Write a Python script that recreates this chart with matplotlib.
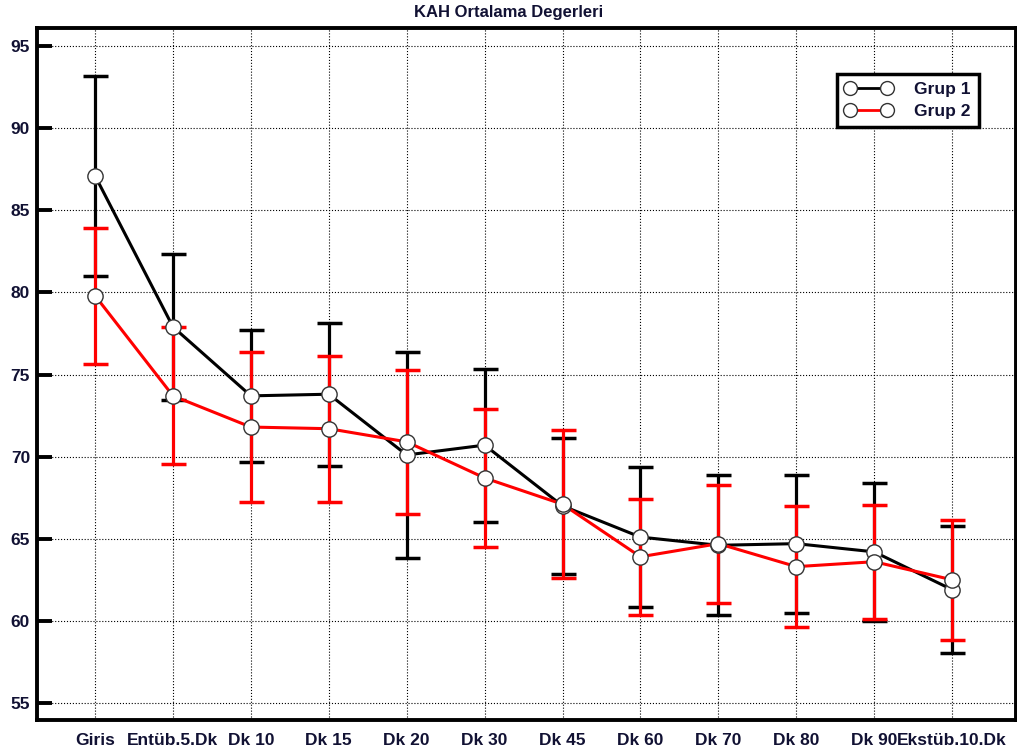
import matplotlib
matplotlib.use('Agg')
import matplotlib.pyplot as plt
import numpy as np

plt.rcParams['font.family'] = ['Liberation Sans', 'DejaVu Sans']
plt.rcParams['font.weight'] = 'bold'

labels = ['Giris', 'Entüb.5.Dk', 'Dk 10', 'Dk 15', 'Dk 20', 'Dk 30', 'Dk 45',
          'Dk 60', 'Dk 70', 'Dk 80', 'Dk 90', 'Ekstüb.10.Dk']

grup1_mean = [87.1, 77.9, 73.7, 73.8, 70.1, 70.7, 67.0, 65.1, 64.6, 64.7, 64.2, 61.9]
grup1_sd = [6.1, 4.45, 4.0, 4.35, 6.3, 4.66, 4.15, 4.27, 4.26, 4.2, 4.2, 3.86]

grup2_mean = [79.8, 73.7, 71.8, 71.7, 70.9, 68.7, 67.1, 63.9, 64.7, 63.3, 63.6, 62.5]
grup2_sd = [4.14, 4.17, 4.55, 4.45, 4.4, 4.2, 4.5, 3.53, 3.6, 3.7, 3.47, 3.65]

x = np.arange(len(labels))

fig = plt.figure(figsize=(10.17, 7.53), dpi=100)
ax = fig.add_axes([0.0364, 0.0438, 0.9626, 0.919])

# error bars
ax.errorbar(x, grup1_mean, yerr=grup1_sd, fmt='none', ecolor='black',
            elinewidth=2.3, capsize=9, capthick=2.5, zorder=3)
ax.errorbar(x, grup2_mean, yerr=grup2_sd, fmt='none', ecolor='red',
            elinewidth=2.3, capsize=9, capthick=2.5, zorder=4)

# lines
ax.plot(x, grup1_mean, color='black', lw=2.2, zorder=5)
ax.plot(x, grup2_mean, color='red', lw=2.2, zorder=6)

# markers
ax.plot(x, grup1_mean, 'o', ms=11, mfc='white', mec='#333333', mew=1.0, zorder=7)
ax.plot(x, grup2_mean, 'o', ms=11, mfc='white', mec='#333333', mew=1.0, zorder=8)

# legend handles
h1, = ax.plot([], [], color='black', lw=2, marker='o', ms=10, mfc='white', mec='#333333', mew=1)
h2, = ax.plot([], [], color='red', lw=2, marker='o', ms=10, mfc='white', mec='#333333', mew=1)
leg = ax.legend([h1, h2], ['Grup 1', 'Grup 2'], loc='upper right',
                bbox_to_anchor=(0.962, 0.934), borderaxespad=0, numpoints=2,
                fancybox=False, framealpha=1, edgecolor='black',
                handlelength=2.7, handletextpad=1.3, borderpad=0.45,
                labelspacing=0.4, prop={'size': 12.5, 'weight': 'bold'})
leg.get_frame().set_linewidth(2.5)
for t in leg.get_texts():
    t.set_color('#111133')

ax.set_xlim(-0.745, 11.82)
ax.set_ylim(53.96, 96.1)
ax.set_yticks([55, 60, 65, 70, 75, 80, 85, 90, 95])
ax.set_xticks(x)
ax.set_xticklabels(labels)

ax.grid(True, color='black', linestyle=':', linewidth=0.8)
ax.set_axisbelow(True)

ax.tick_params(axis='y', direction='in', length=11, width=2.8, pad=5,
               labelsize=12.5, labelcolor='#111133')
ax.tick_params(axis='x', length=0, pad=9, labelsize=12.5, labelcolor='#111133')
for lab in ax.get_xticklabels() + ax.get_yticklabels():
    lab.set_fontweight('bold')

for side in ['left', 'bottom', 'top', 'right']:
    ax.spines[side].set_linewidth(2.8)

fig.text(0.5, 0.983, 'KAH Ortalama Degerleri', ha='center', va='center',
         fontsize=12, fontweight='bold', color='#111133')

fig.savefig('out.png', dpi=100)
plt.close()
